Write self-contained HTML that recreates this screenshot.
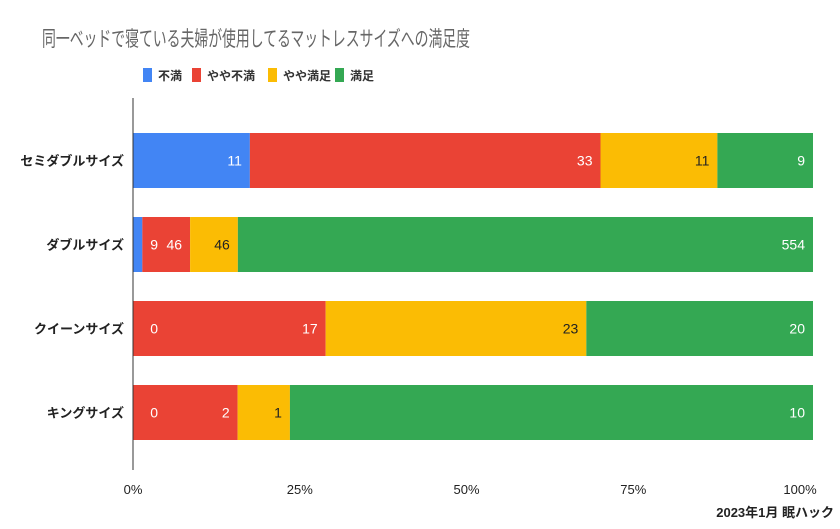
<!DOCTYPE html>
<html><head><meta charset="utf-8">
<style>
body{margin:0;background:#fff;width:840px;height:524px;overflow:hidden;font-family:"Liberation Sans","Noto Sans CJK JP",sans-serif;}
svg text{font-family:"Liberation Sans","Noto Sans CJK JP",sans-serif;}
</style></head>
<body>
<svg id="chart" width="840" height="524">
<text x="42" y="46" textLength="428" lengthAdjust="spacingAndGlyphs" font-size="21" fill="#666">同一ベッドで寝ている夫婦が使用してるマットレスサイズへの満足度</text>
<g id="legend"></g>
<g id="bars"></g>
<g id="labels"></g>
<line x1="133" y1="98" x2="133" y2="470" stroke="#333" stroke-width="1"/>
<g id="xticks"></g>
<text x="834" y="517" text-anchor="end" font-size="13" font-weight="bold" fill="#222">2023年1月 眠ハック</text>
</svg>
<script>
const categories = ["セミダブルサイズ","ダブルサイズ","クイーンサイズ","キングサイズ"];
const seriesNames = ["不満","やや不満","やや満足","満足"];
const fumanValues = [11,9,0,0];
const yayaFumanValues = [33,46,17,2];
const yayaManzokuValues = [11,46,23,1];
const manzokuValues = [9,554,20,10];
const tickLabels = ["0%","25%","50%","75%","100%"];
const tickValues = [0,0.25,0.5,0.75,1];

const colors = ["#4285f4","#ea4335","#fbbc04","#34a853"];
const textColors = ["#fff","#fff","#222","#fff"];
const NS = "http://www.w3.org/2000/svg";
const x0 = 133, plotW = 680;
const xScale = f => x0 + f * plotW;
const tickScale = f => x0 + f * 667;
const barH = 55;
const yScale = i => 133 + 84 * i;
const series = [fumanValues, yayaFumanValues, yayaManzokuValues, manzokuValues];

function mk(tag, attrs, parent){const e=document.createElementNS(NS,tag);for(const k in attrs)e.setAttribute(k,attrs[k]);parent.appendChild(e);return e;}

const legend = document.getElementById('legend');
const legX = [143,192,268,335];
seriesNames.forEach((n,i)=>{
  const r = mk('rect',{x:legX[i],y:68,width:9,height:14,fill:colors[i]},legend);
  
  
  const t = mk('text',{x:legX[i]+15,y:80,'font-size':12,'font-weight':'bold',fill:'#333'},legend);
  t.textContent = n;
  
  
});

const bars = document.getElementById('bars');
const labels = document.getElementById('labels');
categories.forEach((c,i)=>{
  const y = yScale(i);
  const lbl = mk('text',{x:124,y:y+barH/2+5,'text-anchor':'end','font-size':13,'font-weight':'bold',fill:'#222'},bars);
  lbl.textContent = c;
  
  
  const total = series.reduce((s,a)=>s+a[i],0);
  let cum = 0;
  series.forEach((arr,j)=>{
    const v = arr[i];
    const xs = xScale(cum/total);
    cum += v;
    const xe = xScale(cum/total);
    const r = mk('rect',{x:xs,y:y,width:Math.max(0,xe-xs),height:barH,fill:colors[j]},bars);
    
    
    const t = mk('text',{x:Math.max(xe-8,158),y:y+barH/2+5,'text-anchor':'end','font-size':14,fill:textColors[j]},labels);
    t.textContent = v;
    
    
  });
});

const xt = document.getElementById('xticks');
tickValues.forEach((v,i)=>{
  const t = mk('text',{x:tickScale(v),y:494,'text-anchor':'middle','font-size':13,fill:'#222'},xt);
  t.textContent = tickLabels[i];
  
  
});
</script>
</body></html>
